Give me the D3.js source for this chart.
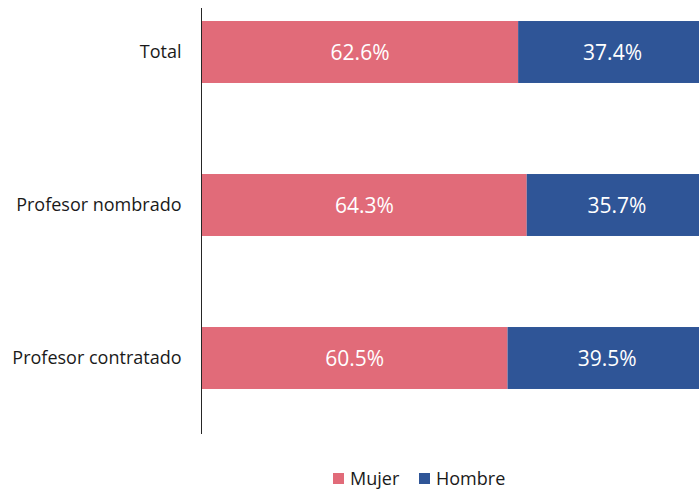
<!DOCTYPE html>
<html><head><meta charset="utf-8">
<script src="https://cdn.jsdelivr.net/npm/d3@7"></script>
<style>body{margin:0;background:#fff}svg{display:block}text{font-family:"Open Sans",sans-serif}</style>
</head><body>
<svg id="c" width="699" height="490"></svg>
<script>
const categories = ["Total", "Profesor nombrado", "Profesor contratado"];
const mujer = [62.6, 64.3, 60.5];
const hombre = [37.4, 35.7, 39.5];
const seriesNames = ["Mujer", "Hombre"];
const colors = ["#E16B79", "#2F5597"];

const svg = d3.select("#c");
const x0 = 202, x1 = 707;
const x = d3.scaleLinear().domain([0, 100]).range([x0, x1]);
const y = d3.scaleBand().domain(categories).range([-24.5, 434.5]).paddingInner(0.595).paddingOuter(0.2975);

const rows = categories.map((c, i) => ({cat: c, vals: [mujer[i], hombre[i]]}));

rows.forEach(r => {
  let acc = 0;
  r.vals.forEach((v, j) => {
    svg.append("rect")
      .attr("x", x(acc)).attr("y", y(r.cat))
      .attr("width", x(acc + v) - x(acc)).attr("height", y.bandwidth())
      .attr("fill", colors[j]);
    svg.append("text")
      .attr("x", (x(acc) + x(acc + v)) / 2)
      .attr("y", y(r.cat) + y.bandwidth() / 2)
      .attr("dy", "0.36em")
      .attr("text-anchor", "middle")
      .attr("fill", "#fff").attr("font-size", 21)
      .text(v.toFixed(1) + "%");
    acc += v;
  });
});

// axis
const axis = d3.axisLeft(y).tickSize(0).tickPadding(20);
const g = svg.append("g").attr("transform", `translate(${x0 - 0.5},0)`).call(axis);
g.select(".domain").remove();
g.selectAll("text").attr("font-size", 18).attr("fill", "#1a1a1a").attr("font-family", '"Open Sans",sans-serif');
svg.append("line").attr("x1", x0 - 0.5).attr("x2", x0 - 0.5).attr("y1", 8).attr("y2", 434)
  .attr("stroke", "#262626").attr("stroke-width", 1);

// legend
const legX = [333, 419];
seriesNames.forEach((n, i) => {
  svg.append("rect").attr("x", legX[i]).attr("y", 473).attr("width", 11).attr("height", 11).attr("fill", colors[i]);
  svg.append("text").attr("x", legX[i] + 17).attr("y", 478.5).attr("dy", "0.36em")
    .attr("font-size", 18).attr("fill", "#1a1a1a").text(n);
});
</script>
</body></html>
